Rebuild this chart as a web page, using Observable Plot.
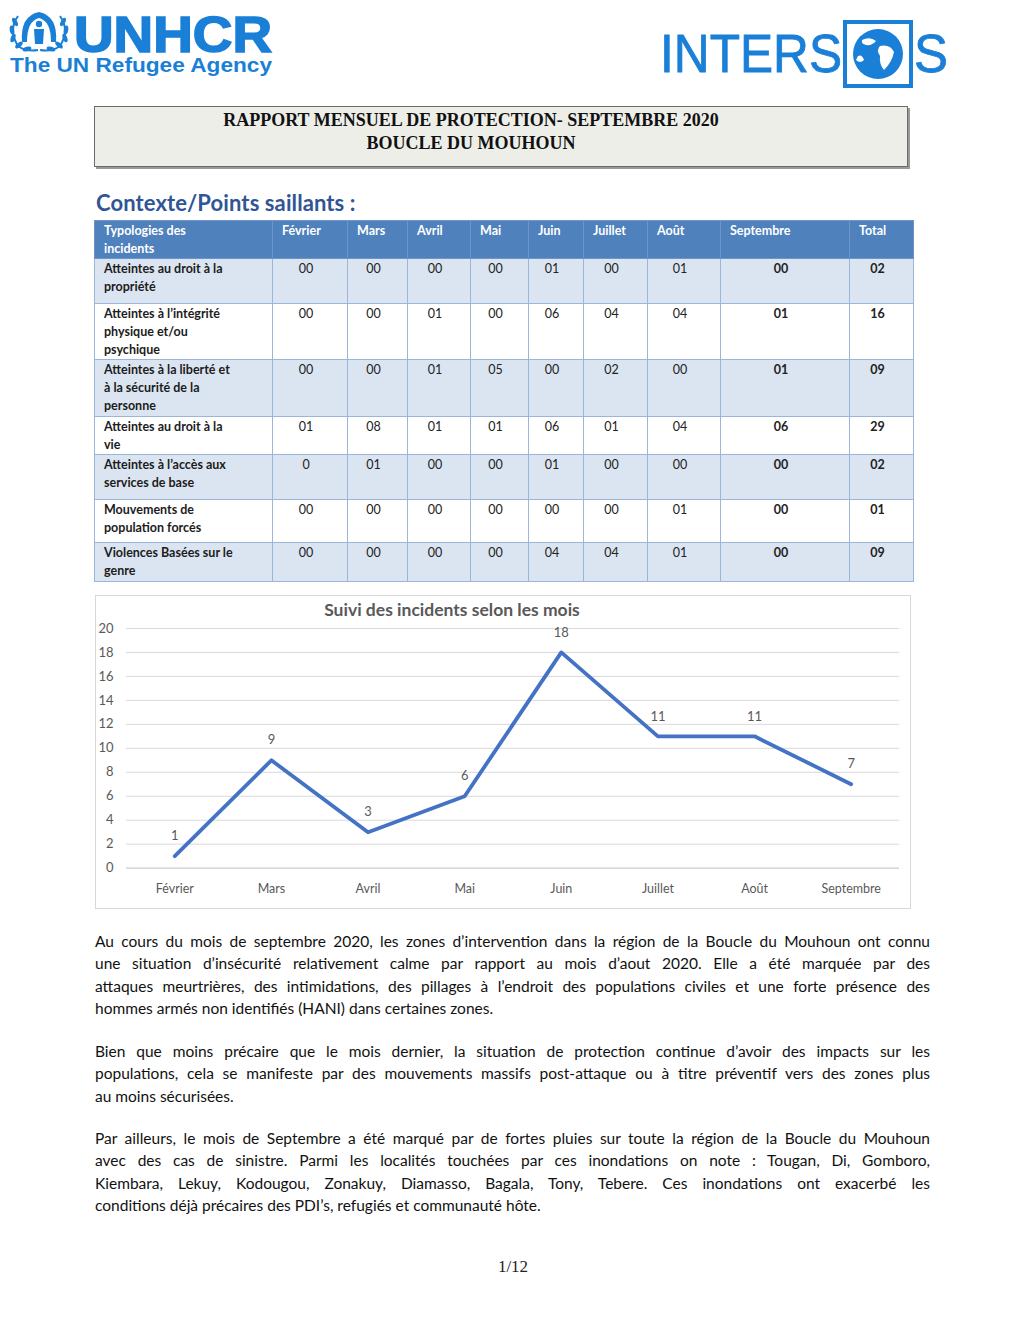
<!DOCTYPE html>
<html><head><meta charset="utf-8">
<script src="https://cdn.jsdelivr.net/npm/d3@7"></script>
<script src="https://cdn.jsdelivr.net/npm/@observablehq/plot@0.6"></script>
<style>
html,body{margin:0;padding:0;background:#fff;}
#page{position:relative;width:1024px;height:1325px;overflow:hidden;font-family:Lato,"Open Sans",sans-serif;color:#111;}
.abs{position:absolute;}
#titlebox{left:94px;top:106px;width:812px;height:59px;background:#eeeee9;border:1px solid #6b6b6b;box-shadow:2px 2px 0 #9a9a9a;
  font-family:"Liberation Serif","Times New Roman",serif;font-weight:bold;font-size:18px;line-height:23px;text-align:center;color:#111;}
#titlebox .in{position:absolute;left:0;right:60px;top:2px;}
#heading{left:96px;top:189px;font-size:22px;font-weight:bold;color:#2f5597;font-family:Lato,sans-serif;letter-spacing:0.1px;}
table#tab{position:absolute;left:94px;top:220px;width:819px;border-collapse:collapse;table-layout:fixed;font-size:12.5px;}
#tab td,#tab th{border:1px solid #9bb6d8;padding:0;vertical-align:top;line-height:18px;overflow:hidden;}
#tab th{background:#4f81bd;color:#fff;font-weight:bold;text-align:left;padding:1px 0 0 9px;border-color:#6f95c8;}
#tab td{text-align:center;padding-top:1px;padding-right:8px;color:#222;}
#tab td.lab{text-align:left;padding-left:9px;padding-right:0;font-weight:bold;color:#1c1c1c;white-space:nowrap;}
#tab td.b{font-weight:bold;}
#tab tr.odd td{background:#dbe5f1;}
#tab tr.even td{background:#ffffff;}
#chartbox{left:95px;top:595px;width:814px;height:312px;border:1px solid #d9d9d9;}
#charttitle{position:absolute;left:0;width:712px;top:3px;text-align:center;font-size:17.5px;font-weight:bold;color:#595959;font-family:Lato,sans-serif;z-index:2;}
#chart{position:absolute;left:-1px;top:-1px;}
.para{position:absolute;left:95px;width:835px;font-size:15.5px;line-height:22.3px;color:#111;font-family:Lato,"Open Sans",sans-serif;}
.para span{display:block;white-space:nowrap;text-align:justify;text-align-last:justify;}
.para span.last{text-align-last:left;}
#footer{left:0;width:1026px;top:1257px;text-align:center;font-family:"Liberation Serif","Times New Roman",serif;font-size:17px;color:#222;}
</style></head><body><div id="page">

<svg class="abs" style="left:0;top:0" width="300" height="85" viewBox="0 0 300 85">
  <g fill="none" stroke="#1a7fd6" stroke-width="2">
    <path d="M18 16 Q8 30 18 46 Q26 52 38 50"/>
    <path d="M60 16 Q70 30 60 46 Q52 52 40 50"/>
  </g>
  <g fill="#1a7fd6">
    <ellipse cx="15" cy="22" rx="2.2" ry="4.5" transform="rotate(-30 15 22)"/>
    <ellipse cx="12" cy="30" rx="2.2" ry="4.5" transform="rotate(-10 12 30)"/>
    <ellipse cx="13" cy="38" rx="2.2" ry="4.5" transform="rotate(20 13 38)"/>
    <ellipse cx="19" cy="45" rx="2.2" ry="4.5" transform="rotate(50 19 45)"/>
    <ellipse cx="27" cy="49" rx="2.2" ry="4.5" transform="rotate(75 27 49)"/>
    <ellipse cx="63" cy="22" rx="2.2" ry="4.5" transform="rotate(30 63 22)"/>
    <ellipse cx="66" cy="30" rx="2.2" ry="4.5" transform="rotate(10 66 30)"/>
    <ellipse cx="65" cy="38" rx="2.2" ry="4.5" transform="rotate(-20 65 38)"/>
    <ellipse cx="59" cy="45" rx="2.2" ry="4.5" transform="rotate(-50 59 45)"/>
    <ellipse cx="51" cy="49" rx="2.2" ry="4.5" transform="rotate(-75 51 49)"/>
    <path d="M22 42 Q20 16 39 12 Q58 16 56 42 L51 42 Q51 21 39 18 Q27 21 27 42 Z"/>
    <circle cx="39" cy="24" r="3.2"/>
    <path d="M34 29 L44 29 L43 44 L35 44 Z"/>
  </g>
  <text x="74" y="52" textLength="198" lengthAdjust="spacingAndGlyphs" font-family="Liberation Sans, Arial, sans-serif" font-weight="bold" font-size="50" fill="#1a7fd6" stroke="#1a7fd6" stroke-width="1.6">UNHCR</text>
  <text x="10" y="72" textLength="262" lengthAdjust="spacingAndGlyphs" font-family="Liberation Sans, Arial, sans-serif" font-weight="bold" font-size="20" fill="#1a7fd6">The UN Refugee Agency</text>
</svg>

<svg class="abs" style="left:650px;top:10px" width="310" height="85" viewBox="650 10 310 85">
  <text x="660" y="72" textLength="182" lengthAdjust="spacingAndGlyphs" font-family="Liberation Sans, Arial, sans-serif" font-size="54" fill="#1a7fd6" stroke="#1a7fd6" stroke-width="0.8">INTERS</text>
  <rect x="845" y="22" width="66" height="64" fill="none" stroke="#1a7fd6" stroke-width="4"/>
  <circle cx="878" cy="54" r="25" fill="#1a7fd6"/>
  <path d="M862 40 Q870 36 876 41 Q872 46 866 45 Q861 44 862 40 Z M880 46 Q890 44 894 52 Q892 62 884 70 Q879 64 880 56 Q876 50 880 46 Z M858 56 Q862 54 864 60 Q860 64 856 60 Z" fill="#ffffff"/>
  <text x="914" y="72" textLength="34" lengthAdjust="spacingAndGlyphs" font-family="Liberation Sans, Arial, sans-serif" font-size="54" fill="#1a7fd6" stroke="#1a7fd6" stroke-width="0.8">S</text>
</svg>

<div id="titlebox" class="abs"><div class="in">RAPPORT MENSUEL DE PROTECTION- SEPTEMBRE 2020<br>BOUCLE DU MOUHOUN</div></div>
<div id="heading" class="abs">Contexte/Points saillants :</div>

<table id="tab">
  <colgroup><col style="width:178px"><col style="width:75px"><col style="width:60px"><col style="width:63px"><col style="width:58px"><col style="width:55px"><col style="width:64px"><col style="width:73px"><col style="width:129px"><col style="width:64px"></colgroup>
  <thead><tr id="headrow" style="height:38px"></tr></thead>
  <tbody id="tbody"></tbody>
</table>

<div id="chartbox" class="abs">
  <div id="charttitle">Suivi des incidents selon les mois</div>
  <div id="chart"></div>
</div>

<div class="para" style="top:930px">
<span>Au cours du mois de septembre 2020, les zones d’intervention dans la région de la Boucle du Mouhoun ont connu</span>
<span>une situation d’insécurité relativement calme par rapport au mois d’aout 2020. Elle a été marquée par des</span>
<span>attaques meurtrières, des intimidations, des pillages à l’endroit des populations civiles et une forte présence des</span>
<span class="last">hommes armés non identifiés (HANI) dans certaines zones.</span>
</div>
<div class="para" style="top:1040px">
<span>Bien que moins précaire que le mois dernier, la situation de protection continue d’avoir des impacts sur les</span>
<span>populations, cela se manifeste par des mouvements massifs post-attaque ou à titre préventif vers des zones plus</span>
<span class="last">au moins sécurisées.</span>
</div>
<div class="para" style="top:1127px">
<span>Par ailleurs, le mois de Septembre a été marqué par de fortes pluies sur toute la région de la Boucle du Mouhoun</span>
<span>avec des cas de sinistre. Parmi les localités touchées par ces inondations on note : Tougan, Di, Gomboro,</span>
<span>Kiembara, Lekuy, Kodougou, Zonakuy, Diamasso, Bagala, Tony, Tebere. Ces inondations ont exacerbé les</span>
<span class="last">conditions déjà précaires des PDI’s, refugiés et communauté hôte.</span>
</div>
<div id="footer" class="abs">1/12</div>

</div>
<script>
// ---- Data ----
const months = ["Février", "Mars", "Avril", "Mai", "Juin", "Juillet", "Août", "Septembre"];
const incidentsParMois = [1, 9, 3, 6, 18, 11, 11, 7];
const yTicks = [0, 2, 4, 6, 8, 10, 12, 14, 16, 18, 20];

const headerFirst = ["Typologies des", "incidents"];
const headerLast = "Total";

const typologies = [
  ["Atteintes au droit à la", "propriété"],
  ["Atteintes à l’intégrité", "physique et/ou", "psychique"],
  ["Atteintes à la liberté et", "à la sécurité de la", "personne"],
  ["Atteintes au droit à la", "vie"],
  ["Atteintes à l’accès aux", "services de base"],
  ["Mouvements de", "population forcés"],
  ["Violences Basées sur le", "genre"]
];
const valsPropriete = ["00", "00", "00", "00", "01", "00", "01", "00", "02"];
const valsIntegrite = ["00", "00", "01", "00", "06", "04", "04", "01", "16"];
const valsLiberte   = ["00", "00", "01", "05", "00", "02", "00", "01", "09"];
const valsVie       = ["01", "08", "01", "01", "06", "01", "04", "06", "29"];
const valsServices  = ["0",  "01", "00", "00", "01", "00", "00", "00", "02"];
const valsMouvement = ["00", "00", "00", "00", "00", "00", "01", "00", "01"];
const valsVBG       = ["00", "00", "00", "00", "04", "04", "01", "00", "09"];
const tableValues = [valsPropriete, valsIntegrite, valsLiberte, valsVie, valsServices, valsMouvement, valsVBG];
const rowHeights = [45, 55, 57, 37, 45, 43, 39];

// ---- Table ----
const headrow = document.getElementById("headrow");
[headerFirst.join("<br>"), ...months, headerLast].forEach(h => {
  const th = document.createElement("th");
  th.innerHTML = h;
  headrow.appendChild(th);
});
const tbody = document.getElementById("tbody");
typologies.forEach((lab, i) => {
  const tr = document.createElement("tr");
  tr.className = i % 2 === 0 ? "odd" : "even";
  tr.style.height = rowHeights[i] + "px";
  const td0 = document.createElement("td");
  td0.className = "lab";
  td0.innerHTML = lab.join("<br>");
  tr.appendChild(td0);
  tableValues[i].forEach((v, j) => {
    const td = document.createElement("td");
    td.textContent = v;
    if (j >= 7) td.className = "b";
    tr.appendChild(td);
  });
  tbody.appendChild(tr);
});

// ---- Chart ----
const data = months.map((m, i) => ({month: m, value: incidentsParMois[i]}));
const chart = Plot.plot({
  width: 816,
  height: 314,
  marginTop: 33,
  marginBottom: 41,
  marginLeft: 31,
  marginRight: 11,
  style: {fontFamily: "Lato, 'Open Sans', sans-serif", background: "transparent", color: "#595959"},
  x: {type: "point", domain: months, padding: 0.5, round: false, label: null},
  y: {domain: [0, 20], label: null},
  marks: [
    Plot.gridY(yTicks, {stroke: "#d9d9d9", strokeOpacity: 1}),
    Plot.ruleY([0], {stroke: "#d0d0d0"}),
    Plot.axisY(yTicks, {tickSize: 0, tickPadding: 13, fontSize: 13, fill: "#595959", label: null}),
    Plot.axisX({tickSize: 0, tickPadding: 16, fontSize: 12.5, fill: "#595959", label: null}),
    Plot.line(data, {x: "month", y: "value", stroke: "#4472c4", strokeWidth: 3.8}),
    Plot.text(data, {x: "month", y: "value", text: d => String(d.value), dy: -20, fontSize: 13, fill: "#595959"})
  ]
});
document.getElementById("chart").appendChild(chart);
</script>
</body></html>
